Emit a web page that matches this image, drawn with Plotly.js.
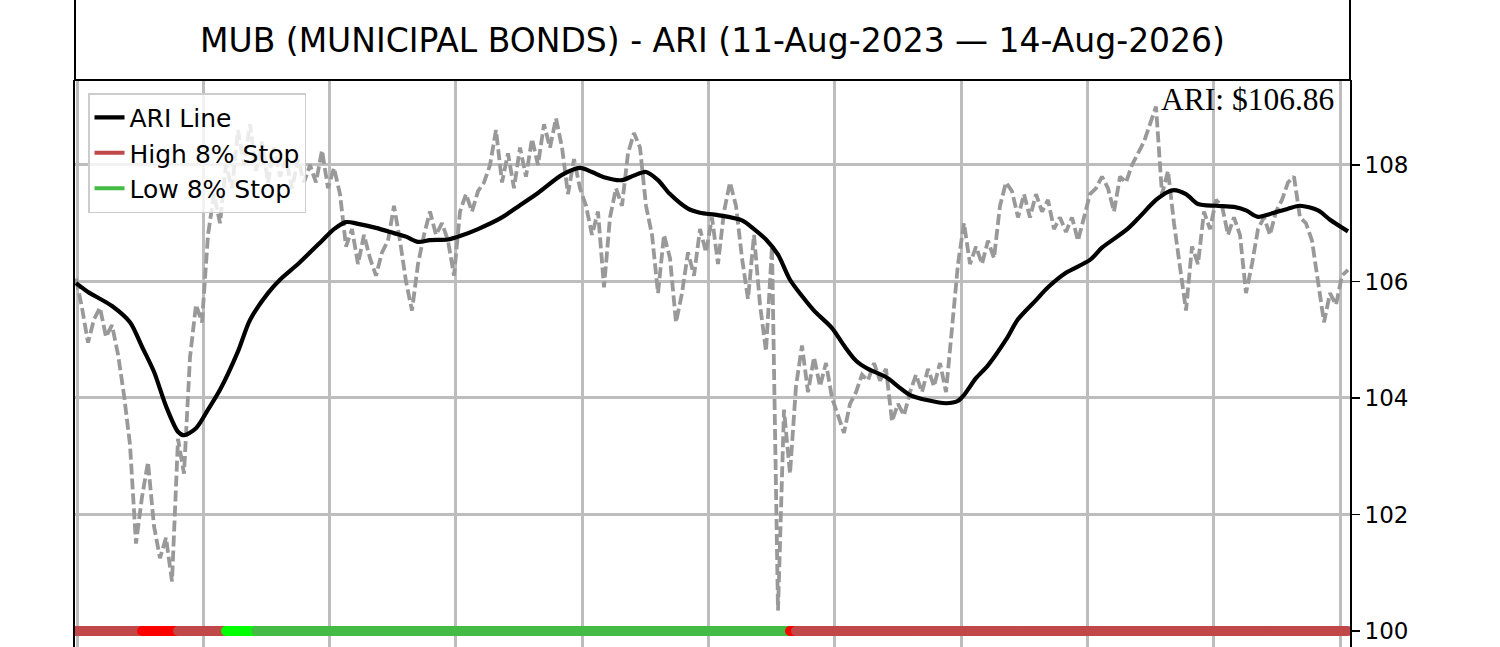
<!DOCTYPE html>
<html>
<head>
<meta charset="utf-8">
<script src="https://cdn.plot.ly/plotly-3.0.1.min.js"></script>
<style>
html,body{margin:0;padding:0;background:#fff;}
#chart{width:1500px;height:647px;}
</style>
</head>
<body>
<div id="chart"></div>
<script>
// ---- DATA ----
const chartTitle = "MUB (MUNICIPAL BONDS) - ARI (11-Aug-2023 \u2014 14-Aug-2026)";
const ariLabel = "ARI: $106.86";

// price series (one value per step, gray line)
const priceValues = [
106.05,105.55,104.95,105.35,105.55,105.05,105.25,104.75,104.05,103.2,
101.5,102.3,102.9,101.8,101.25,101.6,100.85,103.3,102.7,104.7,
105.6,105.3,106.8,107.5,107.0,108.0,107.6,108.6,108.0,108.7,
107.9,108.4,107.7,108.3,107.8,108.1,107.6,108.1,107.7,108.0,
107.7,108.25,107.6,107.95,107.5,106.6,106.9,106.3,106.8,106.4,
106.1,106.5,106.7,107.3,106.7,106.0,105.5,106.3,106.8,107.2,
106.8,107.0,106.7,106.1,107.2,107.5,107.2,107.55,107.7,108.0,
108.6,107.7,108.2,107.6,108.3,107.8,108.45,108.0,108.7,108.3,
108.8,108.3,107.5,108.1,107.6,107.3,106.8,107.2,105.9,107.1,
107.6,107.3,108.2,108.55,108.3,107.3,106.8,105.8,106.8,106.4,
105.3,105.8,106.5,106.1,106.9,106.5,107.1,106.3,107.2,107.7,
107.3,106.4,105.7,106.8,105.6,104.8,106.6,100.35,103.8,102.7,
104.2,104.9,104.1,104.7,104.2,104.6,104.0,103.7,103.4,103.9,
104.1,104.4,104.3,104.6,104.3,104.5,103.6,103.9,103.7,104.1,
104.4,104.1,104.5,104.2,104.6,104.1,105.2,106.3,107.0,106.3,
106.6,106.3,106.7,106.4,107.3,107.7,107.55,107.1,107.5,107.1,
107.5,107.2,107.4,106.9,107.1,106.85,107.1,106.7,107.1,107.5,
107.6,107.8,107.6,107.2,107.8,107.7,108.0,108.2,108.4,108.7,
109.0,107.5,107.9,107.0,106.3,105.5,106.6,106.3,107.2,106.9,
107.4,107.3,106.8,107.1,106.8,105.8,106.3,106.9,107.1,106.8,
107.2,107.4,107.7,107.8,107.1,107.0,106.7,106.0,105.3,105.8,
105.6,106.1,106.2
];

// ARI line (step index, value)
const ariIdx = [0,2,6,9,11,13,15,17,18,20,22,24,27,29,32,34,37,41,43,45,47,50,53,55,57,59,62,64,67,71,74,77,81,84,86,88,91,93,95,97,99,102,104,107,111,113,115,117,119,121,123,126,128,130,132,135,137,139,142,145,147,148,150,152,155,157,160,162,165,169,171,175,177,180,182,183,185,187,190,193,195,197,199,202,204,207,209,212];
const ariValues = [105.97,105.82,105.58,105.3,104.88,104.45,103.86,103.42,103.36,103.48,103.8,104.14,104.8,105.34,105.8,106.03,106.3,106.7,106.9,107.02,106.99,106.92,106.83,106.77,106.68,106.71,106.72,106.78,106.9,107.1,107.31,107.52,107.83,107.95,107.88,107.79,107.74,107.82,107.88,107.74,107.5,107.25,107.18,107.14,107.05,106.9,106.72,106.46,106.03,105.75,105.5,105.2,104.9,104.64,104.5,104.36,104.2,104.05,103.96,103.91,103.95,104.05,104.34,104.56,105.0,105.35,105.68,105.9,106.15,106.37,106.58,106.88,107.08,107.4,107.54,107.57,107.5,107.33,107.3,107.28,107.22,107.11,107.16,107.25,107.3,107.22,107.06,106.86];

// stop band segments
const stopLevel = 100;
const stopStart = [0, 11, 17, 25, 30, 119, 120];
const stopEnd   = [11, 17, 25, 30, 119, 120, 212];
const stopKind  = ["high", "highSignal", "high", "lowSignal", "low", "highSignal", "high"];

const yTicks = [100, 102, 104, 106, 108];

// ---- STYLE ----
const kindColor = {high: "#c04848", highSignal: "#ff0000", low: "#44bb44", lowSignal: "#00ff00"};

const priceIdx = priceValues.map((_, i) => i);

const traces = [];
traces.push({
  x: priceIdx, y: priceValues, type: "scatter", mode: "lines",
  line: {color: "#999999", width: 3.8, dash: "11px,4px"},
  showlegend: false, hoverinfo: "skip"
});
traces.push({
  x: ariIdx, y: ariValues, type: "scatter", mode: "lines", name: "ARI Line",
  line: {color: "#000000", width: 4.2, shape: "spline", smoothing: 0.8},
  legendrank: 1
});
for (let s = 0; s < stopStart.length; s++) {
  const k = stopKind[s];
  const xs = [], ys = [];
  for (let i = stopStart[s]; i <= stopEnd[s]; i++) { xs.push(i); ys.push(stopLevel); }
  traces.push({
    x: xs, y: ys, type: "scatter", mode: "lines+markers",
    line: {color: kindColor[k], width: 10},
    marker: {color: kindColor[k], size: 10},
    showlegend: false, hoverinfo: "skip"
  });
}
// legend entries for the stop lines
traces.push({x: [null], y: [null], type: "scatter", mode: "lines", name: "High 8% Stop",
  line: {color: kindColor.high, width: 4}, legendrank: 2});
traces.push({x: [null], y: [null], type: "scatter", mode: "lines", name: "Low 8% Stop",
  line: {color: kindColor.low, width: 4}, legendrank: 3});

const plotH = 647 - 80;
const layout = {
  width: 1500, height: 647,
  margin: {l: 75, r: 150, t: 80, b: 0, pad: 0},
  paper_bgcolor: "#ffffff", plot_bgcolor: "#ffffff",
  font: {family: "DejaVu Sans", color: "#000000", size: 16},
  showlegend: true,
  legend: {
    x: 0.0102, y: 0.977, xanchor: "left", yanchor: "top",
    bgcolor: "rgba(255,255,255,0.8)", bordercolor: "#cccccc", borderwidth: 1.5,
    font: {family: "DejaVu Sans", size: 25, color: "#000000"},
    itemwidth: 30, tracegroupgap: 0, traceorder: "normal"
  },
  xaxis: {
    range: [-1/6, 212.5 - 1/6],
    showticklabels: false, ticks: "",
    showgrid: true, gridcolor: "#bdbdbd", gridwidth: 3,
    tick0: 1/6, dtick: 21.05, tickmode: "linear",
    zeroline: false, showline: false, fixedrange: true
  },
  yaxis: {
    side: "right",
    range: [99.725, 109.459],
    tickmode: "array", tickvals: yTicks, ticktext: yTicks.map(String),
    ticks: "outside", ticklen: 8, tickwidth: 1.5, tickcolor: "#000000",
    tickfont: {family: "DejaVu Sans", size: 23, color: "#000000"},
    showgrid: true, gridcolor: "#bdbdbd", gridwidth: 3,
    zeroline: false, showline: true, mirror: true, linecolor: "#000000", linewidth: 2,
    fixedrange: true
  },
  shapes: [
    {type: "rect", xref: "paper", yref: "paper", x0: 0, x1: 1, y0: 1, y1: 1 + 82/plotH,
     line: {color: "#000000", width: 2}, fillcolor: "rgba(0,0,0,0)"}
  ],
  annotations: [
    {xref: "paper", yref: "paper", x: 0.5, y: 1 + 40/plotH, xanchor: "center", yanchor: "middle",
     text: chartTitle, showarrow: false, font: {family: "DejaVu Sans", size: 33, color: "#000000"}},
    {xref: "paper", yref: "paper", x: 1 - 14/1275, y: 1 - 0/plotH, xanchor: "right", yanchor: "top",
     text: ariLabel, showarrow: false, font: {family: "Liberation Serif", size: 31.5, color: "#000000"}}
  ]
};

Plotly.newPlot("chart", traces, layout, {staticPlot: true, displayModeBar: false});
</script>
</body>
</html>
